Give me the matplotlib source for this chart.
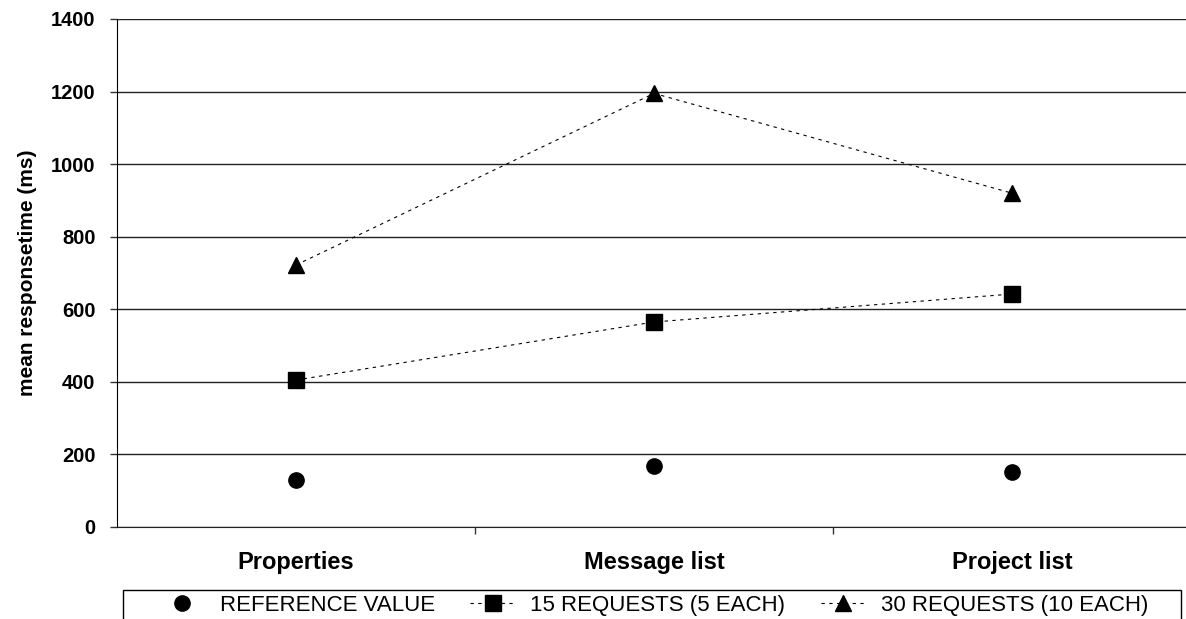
import matplotlib
matplotlib.use("Agg")
import matplotlib.pyplot as plt
from matplotlib.patches import Rectangle
from matplotlib.ticker import FixedLocator

categories = ["Properties", "Message list", "Project list"]
reference_value = [130, 168, 152]
req15 = [405, 565, 642]
req30 = [722, 1195, 920]
series_labels = ["REFERENCE VALUE", "15 REQUESTS (5 EACH)", "30 REQUESTS (10 EACH)"]
y_ticks = [0, 200, 400, 600, 800, 1000, 1200, 1400]

plt.rcParams["font.family"] = ["Liberation Sans", "DejaVu Sans"]

W, H = 1186, 619
fig = plt.figure(figsize=(W / 100, H / 100), dpi=100)
ax = fig.add_axes([117 / W, 1 - 527 / H, 1074 / W, 508 / H])

x = list(range(len(categories)))
dash = (0, (3, 4))

ax.plot(x, reference_value, linestyle="none", marker="o", markersize=11,
        color="black", label=series_labels[0], zorder=3)
ax.plot(x, req15, linestyle=dash, linewidth=0.8, marker="s", markersize=11,
        color="black", label=series_labels[1], zorder=3)
ax.plot(x, req30, linestyle=dash, linewidth=0.8, marker="^", markersize=12,
        color="black", label=series_labels[2], zorder=3)

ax.set_xlim(-0.5, len(categories) - 0.5)
ax.set_ylim(0, 1400)
ax.set_yticks(y_ticks)
ax.set_yticklabels([str(v) for v in y_ticks], fontsize=14.5, fontweight="bold")
ax.yaxis.grid(True, color="#222222", linewidth=1)
ax.set_axisbelow(True)

ax.set_xticks(x)
ax.set_xticklabels(categories, fontsize=17, fontweight="bold")
ax.xaxis.set_minor_locator(FixedLocator([0.5, 1.5]))
ax.tick_params(axis="x", which="major", length=0, pad=17)
ax.tick_params(axis="x", which="minor", length=5, width=1, color="#333333")
ax.tick_params(axis="y", length=5, width=1, color="#333333", pad=10.5)

ax.set_ylabel("mean responsetime (ms)", fontsize=15, fontweight="bold", labelpad=10)

for s in ["top", "right"]:
    ax.spines[s].set_visible(False)
ax.spines["left"].set_color("black")
ax.spines["bottom"].set_color("#222222")

# legend box runs off the bottom of the picture, as in the original
fig.patches.append(Rectangle((123 / W, -0.05), 1058 / W, 0.05 + 1 - 590 / H,
                             transform=fig.transFigure, fill=False,
                             edgecolor="black", linewidth=1))
fig.legend(loc="upper center", bbox_to_anchor=(654 / W, 1 - 584 / H),
           ncol=3, fontsize=16, frameon=False, handlelength=2.0,
           handletextpad=0.7, columnspacing=1.6, borderpad=0.0)

fig.savefig("out.png", dpi=100)
